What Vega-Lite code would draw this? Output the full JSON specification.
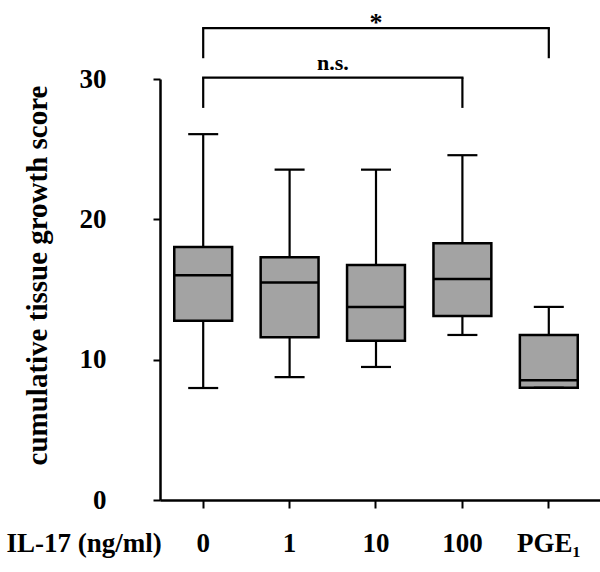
{
  "$schema": "https://vega.github.io/schema/vega-lite/v6.json",
  "width": 440,
  "height": 421,
  "autosize": {"type": "none"},
  "padding": {"left": 160, "top": 79, "right": 0, "bottom": 72},
  "background": "white",
  "config": {
    "view": {"stroke": null},
    "font": "Liberation Serif",
    "axisY": {
      "titleFont": "Liberation Serif", "titleFontWeight": "bold", "titleFontSize": 29,
      "titleColor": "black", "titleX": -123, "titleY": 196, "titleAngle": -90, "titleAlign": "center", "titleBaseline": "middle",
      "labelFont": "Liberation Serif", "labelFontSize": 27, "labelFontWeight": "bold", "labelColor": "black",
      "labelPadding": 47, "tickSize": 7, "tickWidth": 2, "tickColor": "black", "domainColor": "black", "domainWidth": 2.5, "grid": false
    },
    "axisX": {
      "titleFont": "Liberation Serif", "titleFontWeight": "bold", "titleFontSize": 27,
      "titleColor": "black", "titleX": -154, "titleY": 43, "titleAlign": "left", "titleBaseline": "middle", "titleAngle": 0,
      "labelAngle": 0, "labelFont": "Liberation Serif", "labelFontSize": 27, "labelFontWeight": "bold", "labelColor": "black",
      "labelBaseline": "middle", "labelPadding": 35, "tickSize": 8, "tickWidth": 2, "tickColor": "black",
      "domainColor": "black", "domainWidth": 2.5, "grid": false
    }
  },
  "datasets": {
    "boxes": [
      {"g": "0", "min": 7.98, "q1": 12.78, "median": 16.02, "q3": 18.03, "max": 26.07},
      {"g": "1", "min": 8.75, "q1": 11.6, "median": 15.49, "q3": 17.3, "max": 23.54},
      {"g": "10", "min": 9.48, "q1": 11.35, "median": 13.76, "q3": 16.75, "max": 23.54},
      {"g": "100", "min": 11.76, "q1": 13.11, "median": 15.75, "q3": 18.3, "max": 24.57},
      {"g": "PGE₁", "min": 8.0, "q1": 8.0, "median": 8.53, "q3": 11.76, "max": 13.76}
    ]
  },
  "layer": [
    {
      "data": {"name": "boxes"},
      "mark": {"type": "rule", "color": "black", "strokeWidth": 2.2},
      "encoding": {
        "x": {
          "field": "g", "type": "nominal", "title": "IL-17 (ng/ml)",
          "scale": {"domain": ["0", "1", "10", "100", "PGE₁"], "paddingInner": 0, "paddingOuter": 0.0463, "align": 0}
        },
        "y": {
          "field": "min", "type": "quantitative", "title": "cumulative tissue growth score",
          "scale": {"domain": [0, 30], "nice": false, "zero": true},
          "axis": {"values": [0, 10, 20, 30]}
        },
        "y2": {"field": "max"}
      }
    },
    {
      "data": {"name": "boxes"},
      "mark": {"type": "bar", "fill": "#a3a3a3", "stroke": "black", "strokeWidth": 2.5, "width": {"band": 0.67}},
      "encoding": {
        "x": {"field": "g", "type": "nominal", "title": "IL-17 (ng/ml)"},
        "y": {"field": "q1", "type": "quantitative", "title": "cumulative tissue growth score"},
        "y2": {"field": "q3"}
      }
    },
    {
      "data": {"name": "boxes"},
      "mark": {"type": "tick", "color": "black", "size": 58, "thickness": 2.5, "opacity": 1},
      "encoding": {
        "x": {"field": "g", "type": "nominal", "title": "IL-17 (ng/ml)"},
        "y": {"field": "median", "type": "quantitative", "title": "cumulative tissue growth score"}
      }
    },
    {
      "data": {"name": "boxes"},
      "mark": {"type": "tick", "color": "black", "size": 30, "thickness": 2.2, "opacity": 1},
      "encoding": {
        "x": {"field": "g", "type": "nominal", "title": "IL-17 (ng/ml)"},
        "y": {"field": "max", "type": "quantitative", "title": "cumulative tissue growth score"}
      }
    },
    {
      "data": {"name": "boxes"},
      "mark": {"type": "tick", "color": "black", "size": 30, "thickness": 2.2, "opacity": 1},
      "encoding": {
        "x": {"field": "g", "type": "nominal", "title": "IL-17 (ng/ml)"},
        "y": {"field": "min", "type": "quantitative", "title": "cumulative tissue growth score"}
      }
    },
    {
      "data": {"values": [
        {"g": "0", "g2": "100", "y": 30.1},
        {"g": "0", "g2": "PGE₁", "y": 33.62}
      ]},
      "mark": {"type": "rule", "color": "black", "strokeWidth": 2.2, "strokeCap": "square"},
      "encoding": {
        "x": {"field": "g", "type": "nominal", "title": "IL-17 (ng/ml)"},
        "x2": {"field": "g2"},
        "y": {"field": "y", "type": "quantitative", "title": "cumulative tissue growth score"}
      }
    },
    {
      "data": {"values": [
        {"g": "0", "y1": 27.94, "y2": 30.1},
        {"g": "100", "y1": 27.94, "y2": 30.1},
        {"g": "0", "y1": 31.48, "y2": 33.62},
        {"g": "PGE₁", "y1": 31.48, "y2": 33.62}
      ]},
      "mark": {"type": "rule", "color": "black", "strokeWidth": 2.2},
      "encoding": {
        "x": {"field": "g", "type": "nominal", "title": "IL-17 (ng/ml)"},
        "y": {"field": "y1", "type": "quantitative", "title": "cumulative tissue growth score"},
        "y2": {"field": "y2"}
      }
    },
    {
      "data": {"values": [{"g": "1", "y": 30.65, "label": "n.s."}]},
      "mark": {"type": "text", "font": "Liberation Serif", "fontWeight": "bold", "fontSize": 22, "color": "black", "baseline": "alphabetic", "align": "center"},
      "encoding": {
        "x": {"field": "g", "type": "nominal", "bandPosition": 1, "title": "IL-17 (ng/ml)"},
        "y": {"field": "y", "type": "quantitative", "title": "cumulative tissue growth score"},
        "text": {"field": "label"}
      }
    },
    {
      "data": {"values": [{"g": "10", "y": 33.4, "label": "*"}]},
      "mark": {"type": "text", "font": "Liberation Serif", "fontWeight": "bold", "fontSize": 26, "color": "black", "baseline": "alphabetic", "align": "center"},
      "encoding": {
        "x": {"field": "g", "type": "nominal", "title": "IL-17 (ng/ml)"},
        "y": {"field": "y", "type": "quantitative", "title": "cumulative tissue growth score"},
        "text": {"field": "label"}
      }
    }
  ]
}
